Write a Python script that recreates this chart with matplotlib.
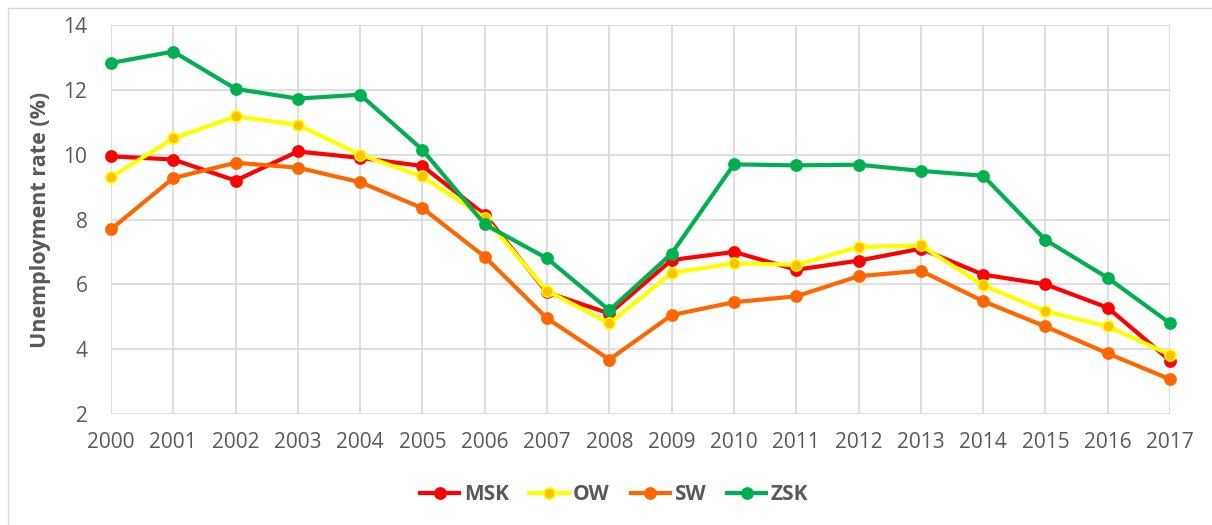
import matplotlib
matplotlib.use("Agg")
import matplotlib.pyplot as plt
from matplotlib.patches import Rectangle

years = list(range(2000, 2018))
msk = [9.95, 9.85, 9.2, 10.1, 9.9, 9.65, 8.15, 5.75, 5.1, 6.75, 7.0, 6.45, 6.73, 7.1, 6.3, 6.0, 5.28, 3.65]
ow = [9.3, 10.5, 11.18, 10.92, 10.0, 9.33, 8.05, 5.8, 4.8, 6.35, 6.65, 6.6, 7.15, 7.2, 5.97, 5.17, 4.7, 3.83]
sw = [7.7, 9.28, 9.75, 9.6, 9.15, 8.35, 6.85, 4.95, 3.68, 5.05, 5.45, 5.63, 6.25, 6.42, 5.48, 4.7, 3.87, 3.07]
zsk = [12.83, 13.18, 12.03, 11.73, 11.85, 10.15, 7.85, 6.8, 5.2, 6.95, 9.7, 9.67, 9.69, 9.5, 9.35, 7.37, 6.2, 4.8]
yticks = [2, 4, 6, 8, 10, 12, 14]

plt.rcParams['font.family'] = ['Open Sans', 'DejaVu Sans']
txt = '#595959'

fig = plt.figure(figsize=(12.12, 5.25), dpi=100)
fig.patches.append(Rectangle((8/1212, -0.1), 1.2, 1 - 8/525 + 0.1, transform=fig.transFigure,
                             fill=False, edgecolor='#d9d9d9', linewidth=1))
ax = fig.add_axes([111/1212, 1 - 414/525, (1170-111)/1212, (414-25)/525])

series = [
    ('MSK', msk, '#FF0000', '#FF0000', '#FF0000'),
    ('OW', ow, '#FFFF00', '#FFC000', '#FFFF00'),
    ('SW', sw, '#FF6600', '#FF6600', '#FF6600'),
    ('ZSK', zsk, '#00B050', '#00B050', '#00B050'),
]
for name, vals, lc, mfc, mec in series:
    ax.plot(years, vals, color=lc, linewidth=3, marker='o', markersize=8,
            markerfacecolor=mfc, markeredgecolor=mec, markeredgewidth=1.2,
            label=name, zorder=3, clip_on=False)

ax.set_xlim(2000, 2017)
ax.set_ylim(2, 14)
ax.set_xticks(years)
ax.set_xticklabels([str(y) for y in years])
ax.set_yticks(yticks)
ax.grid(True, color='#d9d9d9', linewidth=1.2)
ax.set_axisbelow(True)
for s in ax.spines.values():
    s.set_visible(False)
ax.tick_params(axis='both', length=0, labelsize=15, labelcolor=txt)
ax.tick_params(axis='x', pad=13)
ax.tick_params(axis='y', pad=17)
ax.set_ylabel('Unemployment rate (%)', fontsize=15.5, fontweight='bold', color=txt)
ax.yaxis.set_label_coords((51 - 111) / 1059, 0.5)

leg = fig.legend(loc='center', bbox_to_anchor=(614/1212, 1 - 495/525), ncol=4, frameon=False,
                 prop={'size': 15, 'weight': 'bold'}, handlelength=1.9, columnspacing=1.0,
                 handletextpad=0.2, labelcolor=txt)

fig.savefig('out.png', dpi=100)
